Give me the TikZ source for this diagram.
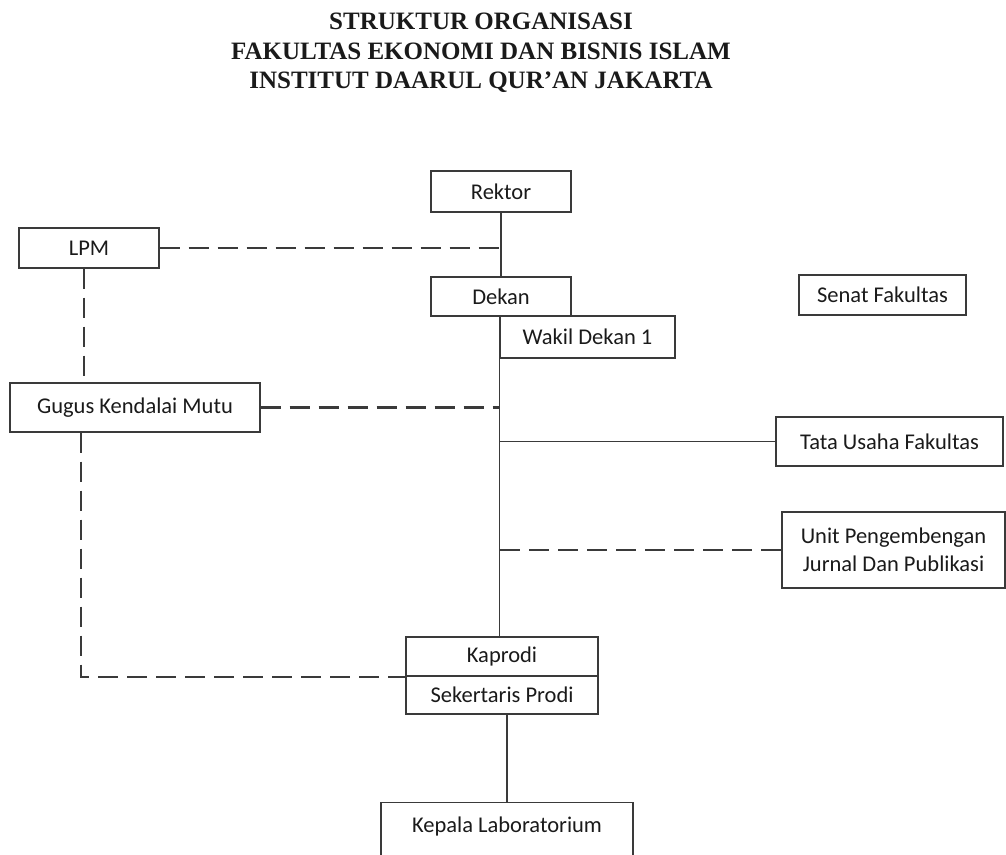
\documentclass[tikz,border=0pt]{standalone}
\usepackage{fontspec}
\setmainfont{Carlito}
\newfontfamily\titlefont{Liberation Serif}
\definecolor{ln}{HTML}{3A3A3A}
\definecolor{tx}{HTML}{1A1A1A}
\begin{document}
\begin{tikzpicture}[x=1pt,y=-1pt,
  box/.style={draw=ln, line width=1.4pt, rectangle, inner sep=0pt, font=\fontsize{22.5}{27}\selectfont, text=tx},
  solidline/.style={draw=ln, line width=1.4pt},
  dashline/.style={draw=ln, line width=2.2pt, dash pattern=on 20pt off 9pt},
  ttl/.style={font=\titlefont\bfseries\fontsize{25}{29}\selectfont, text=tx, anchor=base}]
\clip (0,0) rectangle (1006,854);
\useasboundingbox (0,0) rectangle (1006,854);
% title
\node[ttl] (t1) at (481,29) {STRUKTUR ORGANISASI};
\node[ttl] (t2) at (481,59) {FAKULTAS EKONOMI DAN BISNIS ISLAM};
\node[ttl] (t3) at (481,88) {INSTITUT DAARUL QUR’AN JAKARTA};
% boxes
\node[box, minimum width=140pt, minimum height=41pt] (rektor) at (501,191.5) {Rektor};
\node[box, minimum width=140pt, minimum height=40pt] (lpm) at (89,248) {LPM};
\node[box, minimum width=140pt, minimum height=39pt] (dekan) at (501,296.5) {Dekan};
\node[box, minimum width=175pt, minimum height=42pt] (wakil) at (587.5,337) {Wakil Dekan 1};
\node[box, minimum width=167pt, minimum height=40pt] (senat) at (882.5,295) {Senat Fakultas};
\node[box, minimum width=250pt, minimum height=49pt] (gugus) at (135,407.5) {Gugus Kendalai Mutu};
\node[box, minimum width=227pt, minimum height=49pt] (tata) at (889.5,441.5) {Tata Usaha Fakultas};
\node[box, minimum width=223pt, minimum height=76pt, align=center, font=\fontsize{22.5}{28}\selectfont] (unit) at (893.5,550) {Unit Pengembengan\\Jurnal Dan Publikasi};
\node[box, minimum width=192pt, minimum height=39pt] (kaprodi) at (502,656.5) {Kaprodi};
\node[box, minimum width=192pt, minimum height=38pt] (sekprodi) at (502,695) {Sekertaris Prodi};
\node[box, anchor=north, minimum width=252pt, text height=22pt, text depth=50pt, inner ysep=8pt] (kepala) at (507,802) {Kepala Laboratorium};
% spine coordinates
\coordinate (sp) at (500,0);
\coordinate (lx) at (84,0);
\coordinate (gx) at (81,0);
% solid connectors
\draw[solidline] (rektor) -- (dekan);
\draw[solidline] (wakil.south west) -- (wakil.south west |- kaprodi.north);
\draw[solidline] (tata.west -| sp) -- (tata.west);
\draw[solidline] (sekprodi.south -| kepala.north) -- (kepala.north);
% dashed connectors
\draw[dashline] (lpm.east) -- (lpm.east -| sp);
\draw[dashline] (lpm.south -| lx) -- (gugus.north -| lx);
\draw[dashline] (gugus.east) -- (gugus.east -| sp);
\draw[dashline] (unit.west -| sp) -- (unit.west);
\draw[dashline] (gugus.south -| gx) -- (kaprodi.south -| gx) -- (kaprodi.south west);
\end{tikzpicture}
\end{document}
